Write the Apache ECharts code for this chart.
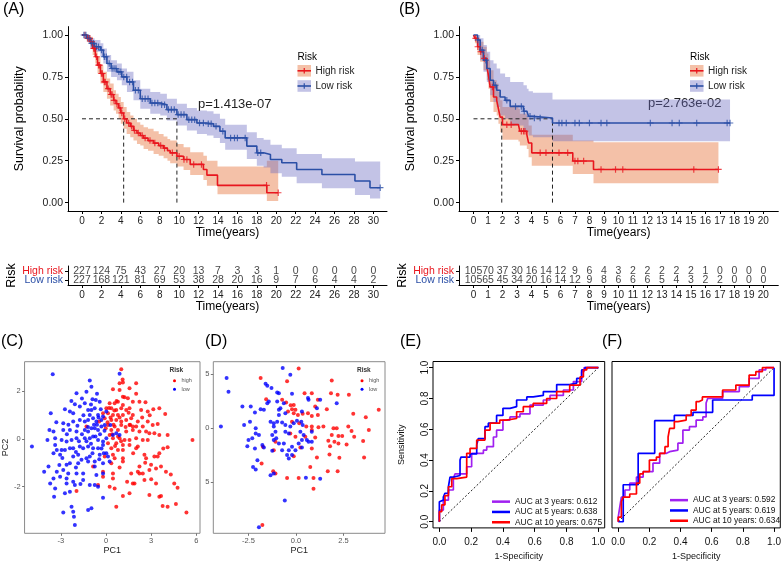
<!DOCTYPE html>
<html><head><meta charset="utf-8">
<script src="https://cdn.jsdelivr.net/npm/echarts@6/dist/echarts.min.js"></script>
<style>html,body{margin:0;padding:0;background:#fff}#c{width:784px;height:571px}</style>
</head><body><div id="c"></div>
<script>
// ---------- Panel A : Kaplan-Meier (training) ----------
const highA_t = [0,0.5,0.86,1.1,1.37,1.6,1.9,2.2,2.57,2.9,3.26,3.5,3.77,4.0,4.29,4.6,4.97,5.3,5.66,6.0,6.34,6.8,7.37,7.9,8.4,8.8,9.08,9.77,10.46,11.14,12.5,12.86,13.95,19.03,20.2];
const highA_s = [1.0,0.98,0.96,0.92,0.87,0.82,0.77,0.72,0.68,0.645,0.61,0.59,0.565,0.535,0.50,0.475,0.455,0.43,0.415,0.40,0.385,0.37,0.355,0.34,0.325,0.31,0.297,0.277,0.257,0.228,0.198,0.164,0.103,0.059,0.059];
const highA_lo = [1.0,0.96,0.93,0.88,0.83,0.77,0.71,0.66,0.62,0.58,0.55,0.53,0.50,0.47,0.44,0.41,0.39,0.37,0.35,0.34,0.32,0.31,0.29,0.28,0.265,0.25,0.235,0.215,0.195,0.165,0.135,0.10,0.05,0.01,0.01];
const highA_hi = [1.0,1.0,0.99,0.96,0.91,0.87,0.82,0.78,0.74,0.71,0.67,0.65,0.63,0.60,0.57,0.54,0.52,0.50,0.48,0.465,0.45,0.44,0.425,0.41,0.395,0.38,0.37,0.35,0.33,0.30,0.28,0.25,0.215,0.25,0.25];
const highA_cens = [0.3,0.6,0.8,1.0,1.2,1.3,1.5,1.7,1.8,2.0,2.1,2.3,2.4,2.7,3.0,3.1,3.3,3.6,3.9,4.1,4.4,4.8,5.1,5.4,5.8,6.2,6.5,7.0,7.5,8.1,8.5,9.3,10.0,10.5,10.8,11.5,12.3,19.0,20.2];
const lowA_t = [0,0.5,0.86,1.3,1.9,2.2,2.57,3.0,3.6,4.1,4.63,5.3,6.0,7.03,8.06,8.74,9.77,10.8,11.83,12.86,13.54,14.2,14.74,16.97,18.0,18.7,19.4,20.57,22.1,24.7,28.1,29.65,30.7];
const lowA_s = [1.0,0.98,0.95,0.93,0.91,0.87,0.83,0.80,0.78,0.75,0.72,0.67,0.62,0.594,0.584,0.555,0.525,0.495,0.475,0.47,0.455,0.426,0.386,0.337,0.297,0.287,0.257,0.238,0.198,0.168,0.129,0.089,0.089];
const lowA_lo = [1.0,0.96,0.92,0.90,0.87,0.83,0.78,0.75,0.73,0.70,0.66,0.61,0.56,0.53,0.52,0.49,0.46,0.43,0.41,0.40,0.385,0.355,0.315,0.26,0.22,0.21,0.175,0.155,0.115,0.085,0.045,0.025,0.025];
const lowA_hi = [1.0,1.0,0.98,0.97,0.95,0.92,0.88,0.85,0.83,0.80,0.78,0.73,0.68,0.66,0.65,0.62,0.59,0.565,0.55,0.545,0.53,0.50,0.465,0.42,0.385,0.375,0.345,0.325,0.29,0.265,0.245,0.245,0.245];
const lowA_cens = [0.2,0.4,0.7,1.0,1.2,1.5,1.7,2.0,2.3,2.5,2.8,3.1,3.3,3.5,3.8,4.0,4.3,4.6,4.9,5.2,5.5,5.8,6.2,6.5,6.8,7.2,7.5,7.8,8.2,8.5,8.9,9.2,9.5,9.9,10.2,10.5,11.0,11.3,11.6,12.1,12.5,13.0,13.3,13.8,14.5,15.3,15.7,16.0,16.8,18.1,18.4,30.7];
const medianA = [4.29, 9.77];
const pvalA = 'p=1.413e-07';
const timeTicksA = [0,2,4,6,8,10,12,14,16,18,20,22,24,26,28,30];
const riskHighA = [227,124,75,43,27,20,13,7,3,3,1,0,0,0,0,0];
const riskLowA  = [227,168,121,81,69,53,38,28,20,16,9,7,6,4,4,2];

// ---------- Panel B : Kaplan-Meier (validation) ----------
const highB_t = [0,0.1,0.28,0.46,0.69,0.92,1.03,1.15,1.38,1.6,1.72,1.84,2.0,3.1,3.2,3.68,3.8,4.02,6.85,8.28,16.9];
const highB_s = [1.0,0.98,0.93,0.90,0.86,0.81,0.76,0.69,0.63,0.61,0.56,0.51,0.465,0.455,0.426,0.406,0.356,0.297,0.248,0.198,0.198];
const highB_lo = [1.0,0.95,0.88,0.84,0.79,0.73,0.68,0.60,0.54,0.52,0.47,0.42,0.375,0.365,0.34,0.32,0.27,0.22,0.17,0.115,0.115];
const highB_hi = [1.0,1.0,0.98,0.96,0.93,0.89,0.85,0.79,0.73,0.71,0.66,0.61,0.57,0.56,0.53,0.51,0.46,0.405,0.37,0.36,0.36];
const highB_cens = [0.15,0.3,0.5,0.75,1.3,2.3,2.6,3.3,3.45,3.55,4.6,5.0,5.9,6.5,7.0,7.2,7.6,8.8,9.8,10.3,15.2,16.9];
const lowB_t = [0,0.28,0.46,0.69,0.92,1.15,1.38,1.6,1.84,2.18,2.53,3.45,3.68,3.8,4.1,5.45,17.7];
const lowB_s = [1.0,0.97,0.91,0.85,0.80,0.73,0.70,0.67,0.63,0.61,0.574,0.545,0.535,0.515,0.505,0.475,0.475];
const lowB_lo = [1.0,0.93,0.85,0.78,0.72,0.64,0.60,0.57,0.52,0.50,0.46,0.43,0.42,0.40,0.39,0.366,0.366];
const lowB_hi = [1.0,1.0,0.98,0.94,0.90,0.85,0.83,0.80,0.77,0.75,0.72,0.70,0.68,0.665,0.655,0.615,0.615];
const lowB_cens = [0.3,0.6,0.85,1.5,2.3,2.9,3.3,3.5,3.9,4.2,4.6,5.9,6.1,6.4,7.0,7.3,8.0,8.8,9.2,12.2,13.7,14.2,15.4,17.5,17.7];
const medianB = [1.95, 5.45];
const pvalB = 'p=2.763e-02';
const timeTicksB = [0,1,2,3,4,5,6,7,8,9,10,11,12,13,14,15,16,17,18,19,20];
const riskHighB = [105,70,37,30,16,14,12,9,6,4,3,2,2,2,2,2,1,0,0,0,0];
const riskLowB  = [105,65,45,34,20,16,14,12,9,8,6,6,6,5,4,3,2,2,0,0,0];

// ---------- Panel C : PCA (training) ----------
const pcaHighC = [[1.01,2.93],[0.90,2.34],[1.12,2.37],[2.00,2.34],[1.56,2.13],[0.46,2.09],[0.90,2.06],[1.12,1.78],[1.23,1.75],[1.45,1.71],[1.78,1.57],[2.22,1.57],[2.62,1.54],[0.24,1.50],[0.57,1.50],[0.79,1.57],[1.12,1.43],[0.02,1.29],[0.35,1.29],[0.68,1.22],[1.01,1.29],[1.34,1.22],[1.56,1.29],[2.33,1.22],[2.77,1.15],[3.54,1.29],[3.14,1.25],[3.93,1.05],[-0.20,1.08],[0.13,1.08],[0.46,1.01],[0.79,1.01],[1.12,1.01],[1.78,1.01],[-0.09,0.87],[0.35,0.80],[0.68,0.80],[1.01,0.73],[1.34,0.80],[1.67,0.87],[2.11,0.73],[2.77,0.73],[-0.46,0.73],[0.13,0.59],[0.57,0.52],[1.01,0.59],[1.56,0.59],[1.78,0.52],[2.00,0.52],[2.44,0.52],[3.10,0.59],[3.43,0.63],[-1.30,0.52],[-0.02,0.45],[0.35,0.38],[0.79,0.38],[1.34,0.31],[1.78,0.38],[2.22,0.31],[2.66,0.31],[2.88,0.24],[3.21,0.24],[3.54,0.17],[4.09,0.17],[0.24,0.17],[0.46,0.03],[0.90,0.03],[1.23,-0.04],[1.56,-0.04],[2.00,0.03],[2.44,-0.04],[2.77,-0.04],[5.74,-0.04],[0.13,-0.18],[0.68,-0.18],[1.12,-0.25],[1.56,-0.25],[2.11,-0.32],[0.35,-0.39],[0.79,-0.46],[1.12,-0.46],[2.00,-0.39],[4.09,-0.35],[0.46,-0.67],[2.55,-0.67],[3.54,-0.60],[-0.09,-0.74],[0.57,-0.81],[1.12,-0.81],[2.66,-0.81],[3.21,-0.74],[3.43,-0.74],[0.35,-1.02],[1.12,-0.95],[2.22,-1.16],[2.99,-1.09],[3.32,-1.24],[3.65,-1.16],[2.11,-1.38],[2.44,-1.45],[-0.86,-1.16],[-0.20,-1.38],[0.46,-1.45],[1.67,-1.45],[2.22,-1.45],[2.88,-1.31],[3.98,-1.38],[-0.20,-1.59],[0.46,-1.66],[1.78,-1.87],[2.55,-1.73],[3.32,-1.87],[4.53,-1.87],[-0.53,-1.94],[0.24,-2.01],[0.57,-2.08],[1.89,-1.87],[4.75,-2.05],[-1.96,-2.19],[1.12,-2.40],[1.56,-2.29],[2.88,-2.36],[3.54,-2.43],[3.65,-2.40],[0.68,-2.85],[3.76,-2.82],[4.09,-2.85],[4.64,-2.74],[5.34,-3.10],[0.50,0.60],[0.90,0.90],[0.30,0.90],[1.30,0.50],[0.60,-0.30],[1.00,-0.10],[0.20,1.30],[0.70,1.60],[1.60,0.60],[0.40,0.20],[1.80,-0.60],[2.40,0.90],[2.60,-1.00],[3.00,-1.70],[1.40,-1.80],[0.90,-1.20],[2.00,1.90],[2.90,1.00],[3.80,-0.40],[4.30,-1.50],[1.10,2.50],[0.10,0.70],[0.80,0.10],[1.50,1.10],[0.55,1.20]];
const pcaLowC = [[-3.54,2.72],[0.90,2.74],[-1.08,2.46],[-0.97,2.20],[-1.96,1.92],[-1.30,1.99],[-0.90,1.67],[-0.68,1.64],[-0.42,1.57],[-1.41,1.50],[-2.07,1.46],[-1.74,1.36],[-2.73,1.25],[-2.40,1.15],[-2.18,1.08],[-3.67,1.08],[-1.19,1.22],[-0.97,1.22],[-0.75,1.29],[-1.08,1.01],[-0.53,1.01],[-0.20,0.94],[-2.84,0.66],[-2.18,0.73],[-1.74,0.80],[-1.41,0.73],[-1.19,0.80],[-0.86,0.87],[-0.64,0.73],[-0.31,0.80],[0.02,1.15],[-3.76,0.38],[-3.49,0.31],[-2.84,0.38],[-2.40,0.38],[-1.96,0.31],[-1.41,0.38],[-1.19,0.31],[-0.97,0.45],[-0.75,0.45],[-0.53,0.38],[-0.31,0.52],[-0.09,0.59],[0.29,0.59],[-3.89,-0.04],[-3.38,0.03],[-2.95,-0.04],[-2.62,-0.11],[-2.29,-0.04],[-1.96,0.03],[-1.41,0.03],[-1.08,0.03],[-0.86,0.10],[-0.53,-0.04],[-0.20,-0.11],[0.02,0.03],[0.46,0.17],[0.68,0.24],[0.90,0.17],[-4.92,-0.32],[-3.38,-0.25],[-3.27,-0.46],[-2.95,-0.46],[-2.73,-0.46],[-2.40,-0.39],[-2.18,-0.39],[-1.74,-0.32],[-1.52,-0.39],[-1.19,-0.32],[-0.86,-0.39],[-0.53,-0.39],[-0.20,-0.25],[-3.49,-0.60],[-3.05,-0.67],[-2.18,-0.74],[-1.85,-0.67],[-1.63,-0.88],[-1.30,-0.81],[-1.08,-0.74],[-0.42,-0.67],[0.02,-0.60],[0.13,-0.74],[-3.82,-1.16],[-2.62,-1.09],[-2.40,-1.02],[-1.85,-1.02],[-1.19,-0.95],[-0.75,-0.95],[-0.20,-1.02],[0.24,-0.95],[-4.11,-1.38],[-3.27,-1.38],[-2.84,-1.31],[-2.51,-1.45],[-1.96,-1.45],[-1.52,-1.45],[-0.75,-1.16],[-0.64,-1.52],[-0.20,-1.45],[-3.49,-1.66],[-3.05,-1.59],[-2.62,-1.66],[-2.18,-1.80],[-1.52,-1.73],[-3.71,-1.87],[-2.62,-1.87],[-2.07,-1.94],[-1.08,-1.94],[-0.53,-2.01],[-3.38,-2.08],[-2.73,-2.29],[-2.40,-2.22],[-0.75,-1.94],[-3.45,-2.43],[-0.20,-2.47],[-2.29,-2.85],[-2.84,-3.10],[-2.18,-3.06],[-0.97,-2.92],[-1.19,-2.99],[-2.13,-3.27],[-2.07,-3.62],[-0.60,0.60],[-0.40,0.20],[-0.70,0.10],[-1.00,-0.20],[-0.30,-0.40],[-0.80,0.60],[-1.20,0.50],[-0.50,0.90],[-1.60,0.20],[-1.30,-0.10],[-0.90,-0.60],[-0.45,-0.85],[-1.50,1.00],[-2.50,0.60],[-2.90,-0.80],[-2.00,-1.20],[-1.70,-1.90],[-3.10,-1.10],[-2.30,1.60],[-1.60,1.70],[-0.10,0.35],[-0.15,-0.60],[-1.00,1.45],[-0.60,1.90],[-3.30,0.70],[-1.90,0.55],[-2.60,0.20],[-1.80,-0.10],[-2.00,-0.55],[-0.35,1.25]];

// ---------- Panel D : PCA (validation) ----------
const pcaHighD = [[0.14,5.53],[-1.86,4.66],[-0.47,4.35],[1.88,4.44],[-1.57,2.70],[-0.73,2.64],[-0.52,2.39],[-0.28,2.14],[-0.12,2.17],[-0.21,1.77],[-0.03,1.71],[0.45,3.26],[0.83,3.26],[1.15,2.64],[1.01,2.02],[1.84,3.26],[2.19,3.11],[2.78,3.11],[-0.42,1.55],[-0.12,1.40],[0.10,1.24],[0.35,1.34],[0.63,1.40],[0.83,1.15],[1.15,1.24],[1.62,1.77],[3.01,1.34],[3.67,1.02],[4.35,1.71],[-0.21,0.62],[0.17,0.47],[0.54,0.16],[0.83,0.16],[1.18,0.09],[1.44,0.16],[1.97,0.00],[2.14,0.00],[2.75,0.16],[2.92,-0.25],[3.83,-0.16],[-0.30,-0.47],[-0.03,-0.78],[0.49,-0.78],[0.83,-0.16],[1.01,-0.84],[1.88,-0.62],[2.23,-0.71],[2.43,-0.71],[3.06,-0.78],[1.70,-1.15],[2.02,-1.24],[2.23,-1.40],[3.53,-1.18],[-1.74,-1.71],[-1.17,-2.02],[-1.08,-1.24],[0.83,-1.86],[1.79,-1.65],[2.66,-1.49],[0.23,-1.77],[-1.81,-3.26],[-0.12,-2.58],[1.76,-2.42],[2.28,-2.73],[3.58,-2.70],[1.10,-2.70],[0.75,-3.57],[1.67,-3.98],[2.19,-3.98],[-1.20,-3.98],[-1.08,-4.19],[-0.47,-4.60],[0.14,-4.60],[0.92,-4.60],[0.92,-5.59],[-1.77,-8.94]];
const pcaLowD = [[-3.65,4.66],[-3.55,3.39],[-0.70,5.59],[-0.30,4.97],[-3.95,0.16],[-1.60,4.13],[-1.51,3.94],[-1.29,3.73],[-0.99,3.32],[-0.90,3.26],[-0.21,3.20],[-2.82,2.02],[-2.38,2.02],[-1.86,1.77],[-1.69,1.71],[-2.16,1.46],[-1.43,2.48],[-1.51,2.33],[-0.99,2.48],[-0.64,2.33],[-0.82,1.86],[-0.90,1.71],[-0.56,1.40],[-0.90,1.24],[0.63,2.80],[0.66,2.64],[1.27,2.64],[1.10,1.86],[0.31,1.55],[2.14,2.33],[-1.34,0.62],[-1.17,0.47],[-0.99,0.62],[-0.73,0.53],[-0.56,0.31],[-2.73,0.31],[-2.42,0.62],[-2.12,0.00],[-2.12,-0.47],[-1.95,-0.62],[-2.30,-0.93],[-2.50,-1.09],[-2.56,-1.65],[-2.16,-1.86],[-1.77,-1.55],[-1.69,-1.77],[-1.17,0.16],[-1.08,-0.31],[-1.04,-0.93],[-1.17,-1.09],[-0.90,-1.40],[-1.25,-0.62],[-0.56,-0.31],[-0.38,-0.47],[-0.30,0.16],[-0.12,0.47],[0.05,0.71],[0.28,0.62],[0.35,0.31],[0.23,-0.31],[0.40,-0.62],[0.31,-1.09],[0.57,-1.09],[0.66,-1.24],[0.83,-0.31],[0.83,-1.24],[0.14,-1.40],[-0.21,-1.71],[-0.38,-2.02],[-0.47,-2.48],[-0.38,-2.80],[-0.21,-2.48],[-0.03,-2.02],[0.31,-1.77],[-0.64,-1.40],[-0.73,-2.02],[-1.25,-2.08],[-2.03,-2.95],[-2.26,-3.57],[-2.12,-3.82],[-1.34,-4.35],[-1.17,-4.19],[0.52,-4.57],[1.27,-4.66],[-0.59,-6.68],[-1.95,-9.16]];

// ---------- Panels E, F : time-dependent ROC ----------
const rocE_names = ['AUC at 3 years: 0.612','AUC at 5 years: 0.638','AUC at 10 years: 0.675'];
const rocE_3y = [[0,0],[0.025,0.076],[0.057,0.14],[0.088,0.206],[0.098,0.28],[0.172,0.31],[0.203,0.357],[0.235,0.444],[0.277,0.444],[0.298,0.465],[0.34,0.487],[0.36,0.55],[0.40,0.595],[0.444,0.66],[0.507,0.68],[0.57,0.70],[0.654,0.757],[0.696,0.79],[0.78,0.82],[0.843,0.855],[0.895,0.91],[0.91,0.974],[0.927,1.0],[1,1]];
const rocE_5y = [[0,0],[0.004,0.13],[0.025,0.14],[0.035,0.16],[0.057,0.185],[0.067,0.227],[0.088,0.29],[0.13,0.30],[0.136,0.40],[0.193,0.42],[0.235,0.44],[0.245,0.50],[0.287,0.54],[0.308,0.617],[0.36,0.64],[0.40,0.69],[0.444,0.736],[0.486,0.747],[0.55,0.79],[0.59,0.81],[0.654,0.82],[0.738,0.845],[0.82,0.89],[0.864,0.90],[0.895,0.93],[0.916,0.985],[0.95,1.0],[1,1]];
const rocE_10y = [[0,0],[0.015,0.065],[0.035,0.11],[0.057,0.17],[0.078,0.227],[0.109,0.28],[0.172,0.29],[0.193,0.444],[0.235,0.476],[0.287,0.53],[0.319,0.595],[0.38,0.64],[0.42,0.66],[0.486,0.67],[0.528,0.714],[0.59,0.747],[0.675,0.768],[0.738,0.80],[0.82,0.845],[0.885,0.887],[0.906,0.94],[0.927,0.985],[0.99,1.0],[1,1]];
const rocF_names = ['AUC at 3 years: 0.592','AUC at 5 years: 0.619','AUC at 10 years: 0.634'];
const rocF_3y = [[0,0],[0.01,0.03],[0.02,0.097],[0.043,0.16],[0.074,0.206],[0.117,0.25],[0.16,0.29],[0.223,0.325],[0.266,0.38],[0.31,0.444],[0.33,0.455],[0.383,0.465],[0.415,0.51],[0.457,0.595],[0.5,0.617],[0.543,0.66],[0.564,0.68],[0.574,0.77],[0.67,0.80],[0.777,0.845],[0.84,0.877],[0.904,0.93],[0.947,0.985],[0.99,1.0],[1,1]];
const rocF_5y = [[0,0],[0.032,0],[0.038,0.24],[0.128,0.24],[0.134,0.444],[0.234,0.444],[0.24,0.656],[0.36,0.656],[0.36,0.69],[0.48,0.69],[0.48,0.71],[0.606,0.71],[0.61,0.79],[0.86,0.79],[0.866,0.82],[1.0,0.82],[1.0,1.0]];
const rocF_10y = [[0,0],[0.02,0.03],[0.032,0.13],[0.074,0.16],[0.117,0.18],[0.138,0.25],[0.16,0.31],[0.2,0.325],[0.245,0.40],[0.266,0.42],[0.3,0.444],[0.32,0.487],[0.33,0.55],[0.36,0.606],[0.383,0.65],[0.436,0.66],[0.468,0.69],[0.5,0.725],[0.52,0.78],[0.54,0.79],[0.67,0.81],[0.755,0.855],[0.84,0.887],[0.883,0.952],[0.925,0.974],[0.968,1.0],[1,1]];
const rocTicks = [0,0.2,0.4,0.6,0.8,1.0];

// ---------- styling ----------
const FONT = '"Liberation Sans", Arial, Helvetica, sans-serif';
const RED = '#E8161E', BLUE = '#2B4FA6';
const BAND_RED = 'rgba(231,117,62,0.45)', BAND_BLUE = 'rgba(105,105,192,0.40)';
const PT_RED = '#FF0000', PT_BLUE = '#0000FF';
const ROC_P = '#A020F0', ROC_B = '#0000FF', ROC_R = '#FF0000';
const PLUS = 'path://M0,4.1H10V5.9H0Z M4.1,0H5.9V10H4.1Z';

function stepAt(ts, ss, c){ let v = ss[0]; for (let i=0;i<ts.length;i++){ if (ts[i] <= c) v = ss[i]; else break; } return v; }
function pairs(ts, ss){ return ts.map((t,i)=>[t, ss[i]]); }

function bandSeries(ts, lo, hi, color, ai){
  return { type:'custom', xAxisIndex:ai, yAxisIndex:ai, silent:true, z:1,
    data: ts.map((t,i)=>[t, lo[i], hi[i]]), encode:{x:0, y:[1,2]},
    renderItem: function(params, api){
      if (params.dataIndex !== 0) return null;
      const pts = [];
      for (let i=0;i<ts.length-1;i++){ pts.push(api.coord([ts[i],hi[i]])); pts.push(api.coord([ts[i+1],hi[i]])); }
      for (let i=ts.length-2;i>=0;i--){ pts.push(api.coord([ts[i+1],lo[i]])); pts.push(api.coord([ts[i],lo[i]])); }
      return { type:'polygon', shape:{points:pts}, style:{fill:color} };
    } };
}
function kmLine(ts, ss, color, ai){
  return { type:'line', xAxisIndex:ai, yAxisIndex:ai, data:pairs(ts,ss), step:'end', symbol:'none', z:3,
    lineStyle:{color:color, width:1.6}, silent:true };
}
function censor(ts, ss, cens, color, ai){
  return { type:'scatter', xAxisIndex:ai, yAxisIndex:ai, data:cens.map(c=>[c, stepAt(ts,ss,c)]), symbol:PLUS, symbolSize:6.5, z:4,
    itemStyle:{color:color}, silent:true };
}
function medianLines(meds, ai){
  const out = [];
  const dash = {color:'#222', width:1, type:[4,3]};
  out.push({ type:'line', xAxisIndex:ai, yAxisIndex:ai, data:[[0,0.5],[Math.max(...meds),0.5]], symbol:'none', lineStyle:dash, z:2, silent:true });
  meds.forEach(m => out.push({ type:'line', xAxisIndex:ai, yAxisIndex:ai, data:[[m,0],[m,0.5]], symbol:'none', lineStyle:dash, z:2, silent:true }));
  return out;
}
function riskRow(ticks, vals, row, ai){
  return { type:'scatter', xAxisIndex:ai, yAxisIndex:ai, symbolSize:0.01, itemStyle:{color:'rgba(0,0,0,0)'}, silent:true,
    data: ticks.map((t,i)=>[t, row, vals[i]]),
    label:{show:true, position:'inside', formatter:p=>String(p.value[2]), fontSize:10.5, color:'#111', fontFamily:FONT} };
}
function rocLine(data, color, name, ai){
  return { type:'line', name:name, xAxisIndex:ai, yAxisIndex:ai, data:data, step:'start', symbol:'none', z:3,
    lineStyle:{color:color, width:1.7}, itemStyle:{color:color}, silent:true };
}
function diag(ai){
  return { type:'line', xAxisIndex:ai, yAxisIndex:ai, data:[[0,0],[1,1]], symbol:'none', z:2, silent:true,
    lineStyle:{color:'#222', width:1, type:[2,2]} };
}

const axLine = {show:true, onZero:false, lineStyle:{color:'#000', width:1}};
function kmX(gi, min, max, ticks, gap){
  return { type:'value', gridIndex:gi, min:min, max:max, axisLine:axLine,
    axisTick:{show:true, customValues:ticks, length:3, lineStyle:{color:'#000'}},
    axisLabel:{customValues:ticks, fontSize:10, color:'#222', margin:5, fontFamily:FONT},
    splitLine:{show:false}, name:'Time(years)', nameLocation:'middle', nameGap:gap,
    nameTextStyle:{fontSize:12, color:'#000', fontFamily:FONT} };
}
function kmY(gi){
  const t = [0,0.25,0.5,0.75,1];
  return { type:'value', gridIndex:gi, min:-0.05, max:1.05, axisLine:axLine,
    axisTick:{show:true, customValues:t, length:3, lineStyle:{color:'#000'}},
    axisLabel:{customValues:t, formatter:v=>v.toFixed(2), fontSize:10.5, color:'#222', margin:5, fontFamily:FONT},
    splitLine:{show:false}, name:'Survival probability', nameLocation:'middle', nameGap:42,
    nameTextStyle:{fontSize:12.5, color:'#000', fontFamily:FONT} };
}
function tableY(gi){
  return { type:'category', gridIndex:gi, data:['Low risk','High risk'], axisLine:axLine,
    axisTick:{show:true, alignWithLabel:true, interval:0, length:3, lineStyle:{color:'#000'}},
    axisLabel:{interval:0, margin:5, fontSize:10.5, fontFamily:FONT,
      formatter:v=> v==='High risk' ? '{h|High risk}' : '{l|Low risk}',
      rich:{h:{color:RED, fontSize:10.5, fontFamily:FONT}, l:{color:BLUE, fontSize:10.5, fontFamily:FONT}}},
    name:'Risk', nameLocation:'middle', nameGap:44, nameTextStyle:{fontSize:12.5, color:'#000', fontFamily:FONT} };
}
function pcaAxis(kind, gi, min, max, ticks, fmt, name, gap){
  const ax = { type:'value', gridIndex:gi, min:min, max:max,
    axisLine:{show:false, onZero:false},
    axisTick:{show:true, customValues:ticks, length:2.5, lineStyle:{color:'#777'}},
    axisLabel:{customValues:ticks, formatter:fmt, fontSize:7.5, color:'#555', margin:4, fontFamily:FONT},
    splitLine:{show:false} };
  if (name){ ax.name = name; ax.nameLocation = 'middle'; ax.nameGap = gap; ax.nameTextStyle = {fontSize:9, color:'#222', fontFamily:FONT}; }
  return ax;
}
function rocAxis(gi, showLabels, name, gap, rotate){
  const ax = { type:'value', gridIndex:gi, min:-0.04, max:1.04,
    axisLine:{show:false, onZero:false},
    axisTick:{show:showLabels, customValues:rocTicks, length:4, lineStyle:{color:'#000'}},
    axisLabel:{show:showLabels, customValues:rocTicks, formatter:v=>v.toFixed(1), fontSize:10, color:'#111', margin:rotate?3:9, rotate:rotate||0, fontFamily:FONT},
    splitLine:{show:false} };
  if (name){ ax.name = name; ax.nameLocation = 'middle'; ax.nameGap = gap; ax.nameTextStyle = {fontSize:9, color:'#111', fontFamily:FONT}; }
  return ax;
}

const grids = [
  {left:68, top:26.6, width:319, height:184.4},          // 0 A plot
  {left:68, top:266, width:319, height:19},              // 1 A table
  {left:459, top:26.6, width:319.3, height:184.4},       // 2 B plot
  {left:459, top:266, width:319.3, height:19},           // 3 B table
  {left:22.7, top:361.7, width:177.3, height:171.6, show:true, borderColor:'#8a8a8a', borderWidth:1},  // 4 C
  {left:213.3, top:361.7, width:171.7, height:171.6, show:true, borderColor:'#8a8a8a', borderWidth:1}, // 5 D
  {left:433, top:361.5, width:171.7, height:166.4, show:true, borderColor:'#000', borderWidth:1},       // 6 E
  {left:612, top:361.5, width:170, height:166.4, show:true, borderColor:'#000', borderWidth:1}          // 7 F
].map(g => Object.assign({containLabel:false, backgroundColor:'transparent'}, g));

const xAxes = [
  kmX(0, -1.44, 31.4, timeTicksA, 14),
  kmX(1, -1.44, 31.4, timeTicksA, 15),
  kmX(2, -1, 21.03, timeTicksB, 14),
  kmX(3, -1, 21.03, timeTicksB, 15),
  pcaAxis('x', 4, -5.41, 6.24, [-3,0,3,6], v=>String(v), 'PC1', 10),
  pcaAxis('x', 5, -4.35, 4.68, [-2.5,0,2.5], v=>v.toFixed(1), 'PC1', 10),
  rocAxis(6, true, '1-Specificity', 24),
  rocAxis(7, true, '1-Specificity', 24)
];
const yAxes = [
  kmY(0), tableY(1), kmY(2), tableY(3),
  pcaAxis('y', 4, -3.97, 3.25, [-2,0,2], v=>String(v), 'PC2', 11),
  pcaAxis('y', 5, -9.72, 6.17, [-5,0,5], v=>String(Math.abs(v)), null, 0),
  rocAxis(6, true, 'Sensitivity', 27, 90),
  rocAxis(7, false, null, 0)
];

const series = [
  bandSeries(highA_t, highA_lo, highA_hi, BAND_RED, 0),
  bandSeries(lowA_t, lowA_lo, lowA_hi, BAND_BLUE, 0),
  ...medianLines(medianA, 0),
  kmLine(highA_t, highA_s, RED, 0), kmLine(lowA_t, lowA_s, BLUE, 0),
  censor(highA_t, highA_s, highA_cens, RED, 0), censor(lowA_t, lowA_s, lowA_cens, BLUE, 0),
  riskRow(timeTicksA, riskHighA, 'High risk', 1), riskRow(timeTicksA, riskLowA, 'Low risk', 1),

  bandSeries(highB_t, highB_lo, highB_hi, BAND_RED, 2),
  bandSeries(lowB_t, lowB_lo, lowB_hi, BAND_BLUE, 2),
  ...medianLines(medianB, 2),
  kmLine(highB_t, highB_s, RED, 2), kmLine(lowB_t, lowB_s, BLUE, 2),
  censor(highB_t, highB_s, highB_cens, RED, 2), censor(lowB_t, lowB_s, lowB_cens, BLUE, 2),
  riskRow(timeTicksB, riskHighB, 'High risk', 3), riskRow(timeTicksB, riskLowB, 'Low risk', 3),

  {type:'scatter', xAxisIndex:4, yAxisIndex:4, data:pcaHighC, symbolSize:4, itemStyle:{color:PT_RED}, silent:true},
  {type:'scatter', xAxisIndex:4, yAxisIndex:4, data:pcaLowC, symbolSize:4, itemStyle:{color:PT_BLUE}, silent:true},
  {type:'scatter', xAxisIndex:5, yAxisIndex:5, data:pcaHighD, symbolSize:4, itemStyle:{color:PT_RED}, silent:true},
  {type:'scatter', xAxisIndex:5, yAxisIndex:5, data:pcaLowD, symbolSize:4, itemStyle:{color:PT_BLUE}, silent:true},

  diag(6),
  rocLine(rocE_3y, ROC_P, rocE_names[0], 6), rocLine(rocE_5y, ROC_B, rocE_names[1], 6), rocLine(rocE_10y, ROC_R, rocE_names[2], 6),
  diag(7),
  rocLine(rocF_3y, ROC_P, rocF_names[0], 7), rocLine(rocF_5y, ROC_B, rocF_names[1], 7), rocLine(rocF_10y, ROC_R, rocF_names[2], 7)
];

function txt(x, y, s, size, opts){
  opts = opts || {};
  return { type:'text', x:x, y:y, silent:true, rotation:opts.rot||0,
    style:{ text:s, fill:opts.color||'#000', font:(opts.bold?'bold ':'') + size + 'px ' + FONT,
      align:opts.align||'left', verticalAlign:'middle' } };
}
function kmLegend(x0){
  const g = [txt(x0, 57, 'Risk', 10)];
  [[RED, BAND_RED, 'High risk', 70.8],[BLUE, BAND_BLUE, 'Low risk', 86]].forEach(([c, b, name, cy]) => {
    g.push({type:'rect', silent:true, shape:{x:x0, y:cy-5.8, width:13.5, height:11.6}, style:{fill:b}});
    g.push({type:'line', silent:true, shape:{x1:x0, y1:cy, x2:x0+13.5, y2:cy}, style:{stroke:c, lineWidth:1.6}});
    g.push({type:'line', silent:true, shape:{x1:x0+6.75, y1:cy-2.8, x2:x0+6.75, y2:cy+2.8}, style:{stroke:c, lineWidth:1.2}});
    g.push(txt(x0+18, cy, name, 10, {color:'#222'}));
  });
  return g;
}
function pcaLegend(x0){
  return [
    txt(x0, 370.7, 'Risk', 6.5, {bold:true, color:'#333'}),
    {type:'circle', silent:true, shape:{cx:x0+5, cy:380.7, r:1.5}, style:{fill:PT_RED}},
    txt(x0+12, 380.7, 'high', 5.5, {color:'#555'}),
    {type:'circle', silent:true, shape:{cx:x0+5, cy:389.3, r:1.5}, style:{fill:PT_BLUE}},
    txt(x0+12, 389.3, 'low', 5.5, {color:'#555'})
  ];
}

const graphic = [
  txt(3, 10, '(A)', 16), txt(399, 10, '(B)', 16),
  txt(1, 342, '(C)', 16), txt(205, 342, '(D)', 16), txt(400, 342, '(E)', 16), txt(602, 342, '(F)', 16),
  txt(198, 104, pvalA, 13, {color:'#222'}), txt(648, 103, pvalB, 13, {color:'#222'}),
  ...kmLegend(297.5), ...kmLegend(690),
  ...pcaLegend(169.5), ...pcaLegend(357)
];

const legendCommon = { orient:'vertical', itemWidth:18, itemHeight:10.3, itemGap:0, selectedMode:false,
  textStyle:{fontSize:8.4, color:'#111', fontFamily:FONT, lineHeight:10.3}, icon:'path://M0,4.3H10V5.7H0Z' };
const legends = [
  Object.assign({}, legendCommon, {data:rocE_names, left:487, top:491.5}),
  Object.assign({}, legendCommon, {data:rocF_names, left:665, top:490})
];
legends.forEach((lg) => { lg.data = lg.data.map((n, i) => ({name:n, itemStyle:{color:[ROC_P,ROC_B,ROC_R][i]}})); });

const chart = echarts.init(document.getElementById('c'), null, {renderer:'canvas'});
chart.setOption({
  animation:false, backgroundColor:'#fff',
  textStyle:{fontFamily:FONT},
  grid:grids, xAxis:xAxes, yAxis:yAxes, series:series, graphic:graphic, legend:legends
});
</script></body></html>
